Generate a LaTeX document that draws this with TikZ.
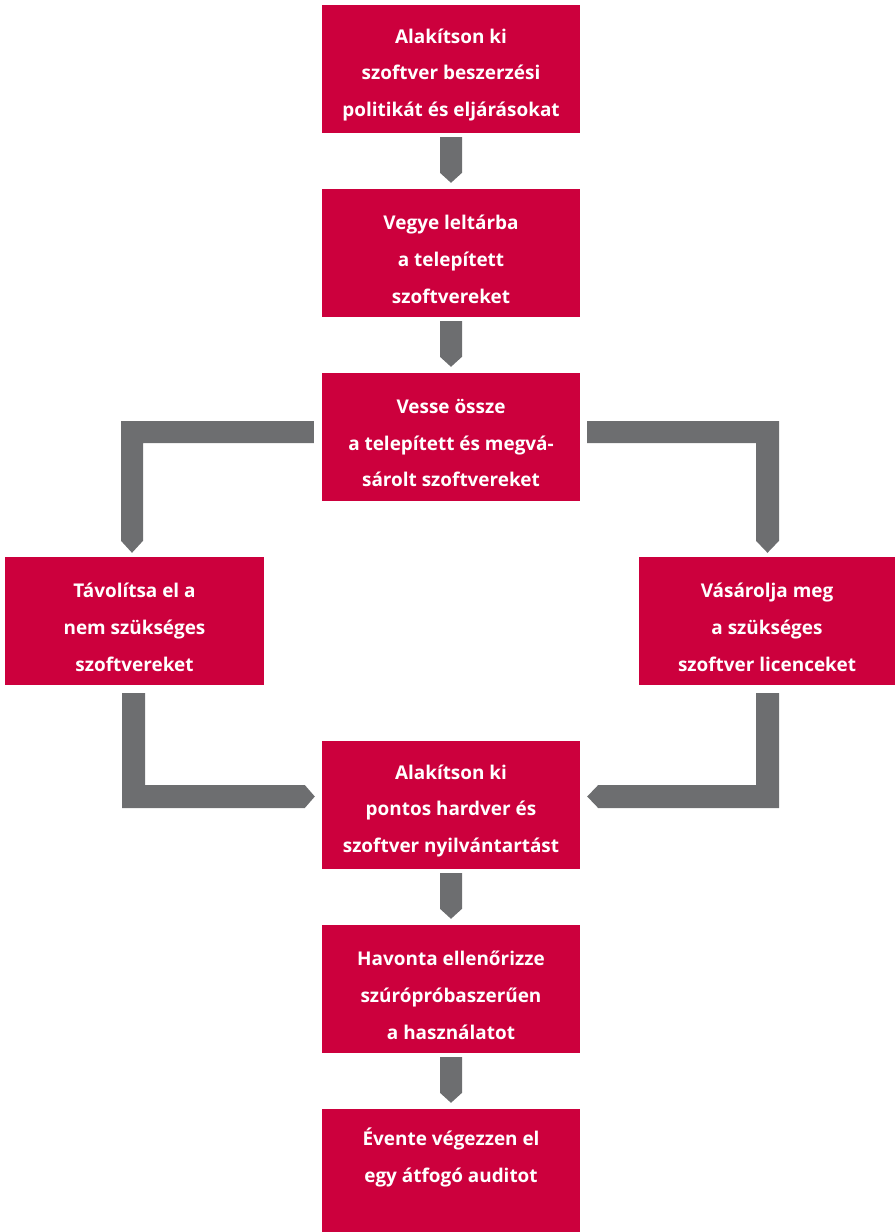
\documentclass[tikz,border=0pt]{standalone}
\usepackage{fontspec}
\setmainfont{Open Sans}
\usetikzlibrary{calc}
\definecolor{boxred}{HTML}{CC003D}
\definecolor{arrgray}{HTML}{6D6E70}
\tikzset{
  stepbox/.style={rectangle, fill=boxred, draw=none, minimum width=258bp, minimum height=128bp,
    inner sep=0pt},
  steptext/.style={text=white, align=center, inner sep=0pt, yshift=-6bp,
    font=\fontsize{19}{37}\selectfont\bfseries},
  arr/.style={fill=arrgray, draw=none}
}
\begin{document}
\begin{tikzpicture}[x=1bp,y=-1bp]
\useasboundingbox (0,0) rectangle (895,1232);
\node[stepbox,label={[steptext]center:Alakítson ki\\szoftver beszerzési\\politikát és eljárásokat}] (b1) at (451,69) {};
\node[stepbox,label={[steptext]center:Vegye leltárba\\a telepített\\szoftvereket}] (b2) at (451,253) {};
\node[stepbox,label={[steptext]center:Vesse össze\\a telepített és megvá-\\sárolt szoftvereket}] (b3) at (451,437) {};
\node[stepbox,label={[steptext]center:Távolítsa el a\\nem szükséges\\szoftvereket}] (L) at (134.5,621) {};
\node[stepbox,minimum width=256bp,label={[steptext]center:Vásárolja meg\\a szükséges\\szoftver licenceket}] (R) at (767,621) {};
\node[stepbox,label={[steptext]center:Alakítson ki\\pontos hardver és\\szoftver nyilvántartást}] (b5) at (451,805) {};
\node[stepbox,label={[steptext]center:Havonta ellenőrizze\\szúrópróbaszerűen\\a használatot}] (b6) at (451,989) {};
\node[stepbox,label={[steptext]center:Évente végezzen el\\egy átfogó auditot\\\strut}] (b7) at (451,1173) {};
% straight arrows
\foreach \a/\b in {b1/b2,b2/b3,b5/b6,b6/b7}{
  \fill[arr] ($(\a.south)+(-11,4)$) -- ($(\a.south)+(11,4)$) -- ($(\b.north)+(11,-16)$)
    -- ($(\b.north)+(0,-6)$) -- ($(\b.north)+(-11,-16)$) -- cycle;
}
% top left
\coordinate (a1) at ($(b3.west)+(-8,-5)$);
\coordinate (a2) at ($(L.north)+(-2.5,-4)$);
\fill[arr] ($(a1)+(0,-11)$) -- ($(a2 |- a1)+(-11,-11)$) -- ($(a2)+(-11,-12)$) -- (a2)
  -- ($(a2)+(11,-12)$) -- ($(a2 |- a1)+(11,11)$) -- ($(a1)+(0,11)$) -- cycle;
% top right
\coordinate (a3) at ($(b3.east)+(7,-5)$);
\coordinate (a4) at ($(R.north)+(0.5,-4)$);
\fill[arr] ($(a3)+(0,-11)$) -- ($(a4 |- a3)+(11.5,-11)$) -- ($(a4)+(11.5,-12)$) -- (a4)
  -- ($(a4)+(-11.5,-12)$) -- ($(a4 |- a3)+(-11.5,11)$) -- ($(a3)+(0,11)$) -- cycle;
% bottom left
\coordinate (a5) at ($(L.south)+(-1,8)$);
\coordinate (a6) at ($(b5.west)+(-7,-8.5)$);
\fill[arr] ($(a5)+(-11.5,0)$) -- ($(a5)+(11.5,0)$) -- ($(a5 |- a6)+(11.5,-11.5)$)
  -- ($(a6)+(-10,-11.5)$) -- (a6) -- ($(a6)+(-10,11.5)$) -- ($(a5 |- a6)+(-11.5,11.5)$) -- cycle;
% bottom right
\coordinate (a7) at ($(R.south)+(0.5,8)$);
\coordinate (a8) at ($(b5.east)+(7,-8.5)$);
\fill[arr] ($(a7)+(11.5,0)$) -- ($(a7)+(-11.5,0)$) -- ($(a7 |- a8)+(-11.5,-11.5)$)
  -- ($(a8)+(11,-11.5)$) -- (a8) -- ($(a8)+(11,11.5)$) -- ($(a7 |- a8)+(11.5,11.5)$) -- cycle;
\end{tikzpicture}
\end{document}
